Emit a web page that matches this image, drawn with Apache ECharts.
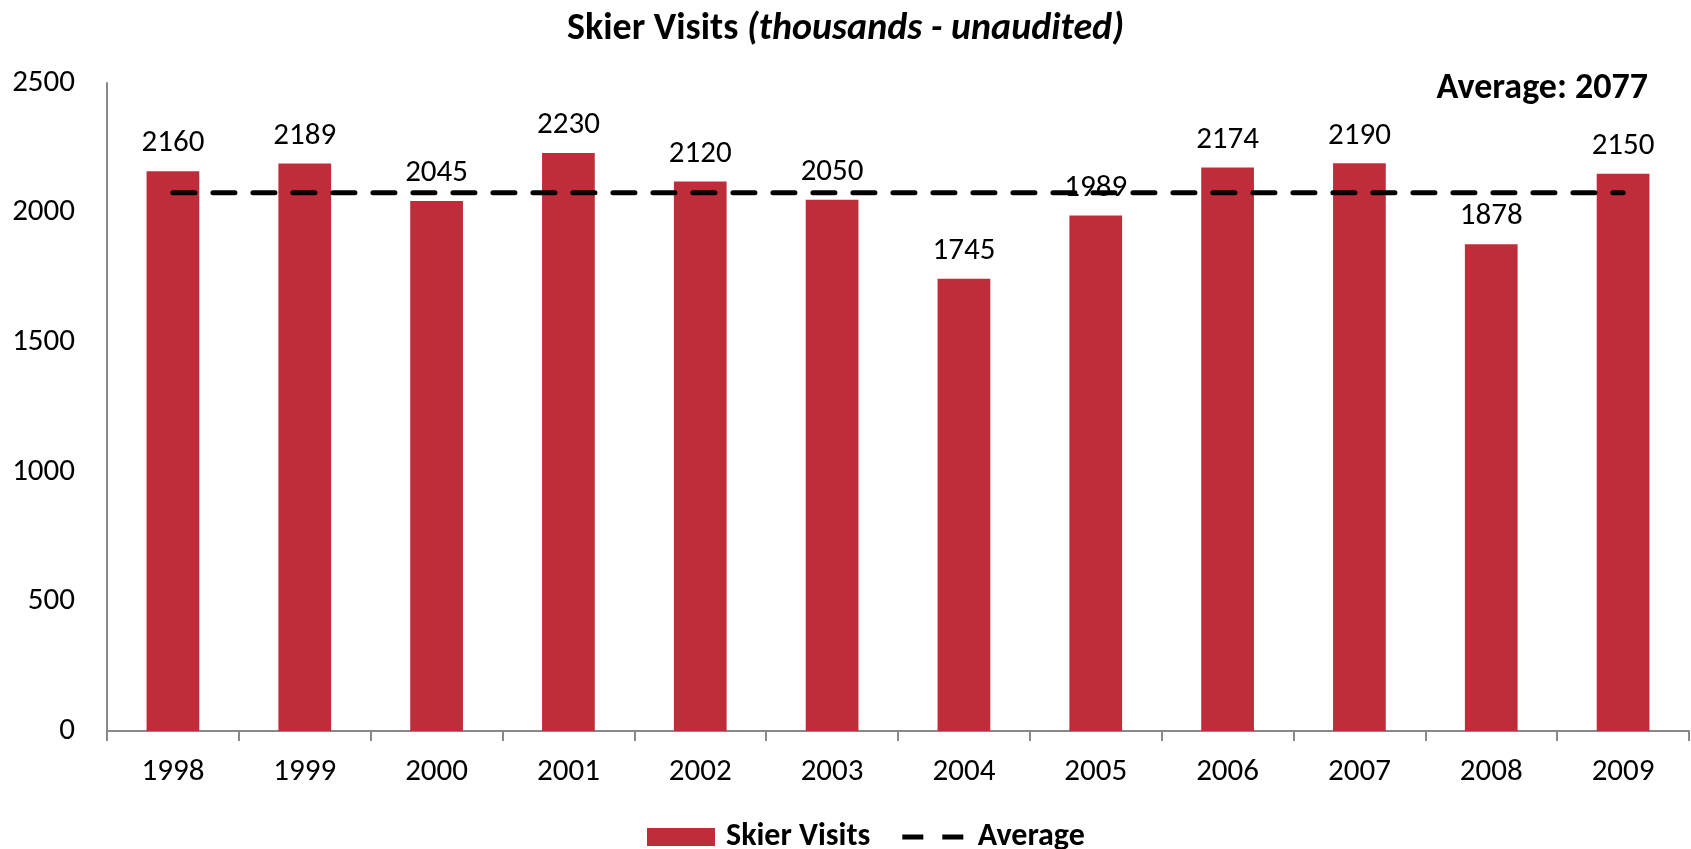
<!DOCTYPE html>
<html>
<head>
<meta charset="utf-8">
<script src="https://cdn.jsdelivr.net/npm/echarts@6/dist/echarts.min.js"></script>
<style>
html,body{margin:0;padding:0;background:#fff;}
#c{width:1691px;height:849px;}
</style>
</head>
<body>
<div id="c"></div>
<script>
const years = ['1998','1999','2000','2001','2002','2003','2004','2005','2006','2007','2008','2009'];
const skierVisits = [2160,2189,2045,2230,2120,2050,1745,1989,2174,2190,1878,2150];
const averageLine = [2077,2077,2077,2077,2077,2077,2077,2077,2077,2077,2077,2077];
const averageLabel = 'Average: 2077';
const yTicks = {min:0, max:2500, interval:500};

const FONT = "Carlito, 'Liberation Sans', Arial, sans-serif";
const chart = echarts.init(document.getElementById('c'));
chart.setOption({
  animation:false,
  textStyle:{fontFamily:FONT, color:'#000'},
  title:[{
    text:'{b|Skier Visits }{i|(thousands - unaudited)}',
    left:'center', top:5,
    textStyle:{rich:{
      b:{fontFamily:FONT,fontWeight:'bold',fontSize:38,color:'#000'},
      i:{fontFamily:FONT,fontStyle:'italic',fontSize:38,color:'#000'}
    }}
  },{
    text:averageLabel,
    right:38, top:66,
    textStyle:{fontFamily:FONT,fontWeight:'bold',fontSize:36,color:'#000'}
  }],
  legend:{
    top:816, left:642,
    itemWidth:68, itemHeight:18, itemGap:32,
    formatter:function(n){return '{t|' + n + '}';},
    textStyle:{fontFamily:FONT,fontWeight:'bold',fontSize:32,color:'#000',
      rich:{t:{fontFamily:FONT,fontWeight:'bold',fontSize:32,color:'#000',padding:[0,0,0,6]}}},
    data:[
      {name:'Skier Visits', icon:'rect'},
      {name:'Average', icon:'path://M0,0M61,18M0,6.5h21v5h-21zM40,6.5h21v5h-21z'}
    ]
  },
  grid:{left:107, right:2, top:83, bottom:118, containLabel:false},
  xAxis:{
    type:'category', data:years,
    axisLine:{lineStyle:{color:'#888',width:2}},
    axisTick:{show:true, alignWithLabel:false, length:10, lineStyle:{color:'#888',width:2}},
    axisLabel:{fontFamily:FONT,fontSize:31,color:'#000',margin:26}
  },
  yAxis:{
    type:'value', min:yTicks.min, max:yTicks.max, interval:yTicks.interval,
    axisLine:{show:true, lineStyle:{color:'#888',width:2}},
    axisTick:{show:false},
    splitLine:{show:false},
    axisLabel:{fontFamily:FONT,fontSize:31,color:'#000',margin:32, formatter:function(v){return String(v);}}
  },
  series:[{
    name:'Skier Visits', type:'bar', data:skierVisits,
    barWidth:'40%',
    itemStyle:{color:'#C02D3A'},
    label:{show:true, position:'top', distance:12, fontFamily:FONT, fontSize:31, color:'#000'},
    z:2
  },{
    name:'Average', type:'line', data:averageLine,
    symbol:'none', showSymbol:false,
    lineStyle:{color:'#000', width:5, type:[22,18], cap:'round'},
    itemStyle:{color:'#000'},
    z:5
  }]
});
</script>
</body>
</html>
